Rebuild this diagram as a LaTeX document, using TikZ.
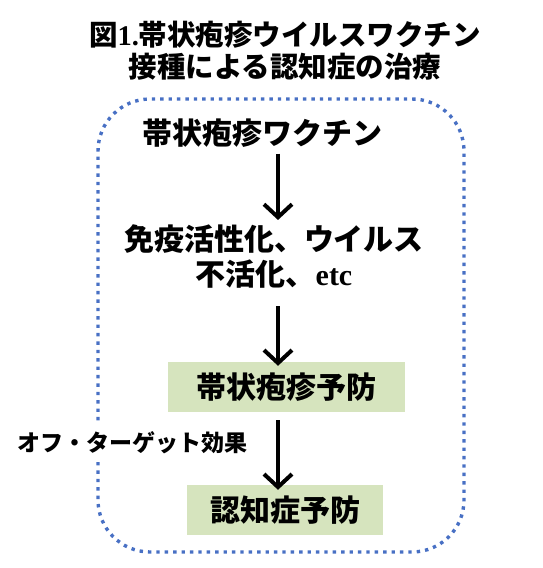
\documentclass[tikz,border=0pt]{standalone}
\usepackage{fontspec}
\setmainfont{Liberation Serif}
\newfontfamily\jp{Noto Sans CJK JP}
\usetikzlibrary{arrows.meta}
\definecolor{dotblue}{RGB}{72,112,196}
\definecolor{boxgreen}{RGB}{214,228,190}
\tikzset{
  jtext/.style={font=\jp\bfseries\fontsize{30}{35}\selectfont, inner sep=0pt, align=center, text=black},
  greenbox/.style={jtext, fill=boxgreen, minimum height=50pt},
  flowarrow/.style={line width=4pt, -{Straight Barb[length=13pt,width=28pt,line width=4pt]}},
  border/.style={draw=dotblue, line width=3.4pt, dash pattern=on 3.4pt off 5pt, rounded corners=52pt}
}
\begin{document}
\begin{tikzpicture}[x=1pt,y=-1pt]
\useasboundingbox (0,0) rectangle (542,568);
% title
\node[font=\jp\bfseries\fontsize{28.5}{32}\selectfont, inner sep=0pt, align=center] (title) at (285,51)
  {図{\rmfamily 1.}帯状疱疹ウイルスワクチン\\接種による認知症の治療};
% dotted frame with a gap at the left
\draw[border] (98,462) -- (98,552) -- (464,552) -- (464,99) -- (98,99) -- (98,422);
% nodes
\coordinate (ax) at (278,0);
\node[jtext] (vac) at (262,133) {帯状疱疹ワクチン};
\node[jtext] (imm) at (274,256) {免疫活性化、ウイルス\\不活化、{\rmfamily etc}};
\node[greenbox, minimum width=237pt] (hz) at (286.5,387) {帯状疱疹予防};
\node[greenbox, minimum width=196pt] (dem) at (285,510) {認知症予防};
\node[font=\jp\bfseries\fontsize{23}{26}\selectfont, inner sep=0pt] (off) at (132.5,443) {オフ・ターゲット効果};
% arrows
\draw[flowarrow] ([yshift=-6pt]vac.south -| ax) -- ([yshift=4pt]imm.north -| ax);
\draw[flowarrow] ([yshift=-18pt]imm.south -| ax) -- ([yshift=-4pt]hz.north -| ax);
\draw[flowarrow] ([yshift=-8pt]hz.south -| ax) -- ([yshift=-5pt]dem.north -| ax);
\end{tikzpicture}
\end{document}
